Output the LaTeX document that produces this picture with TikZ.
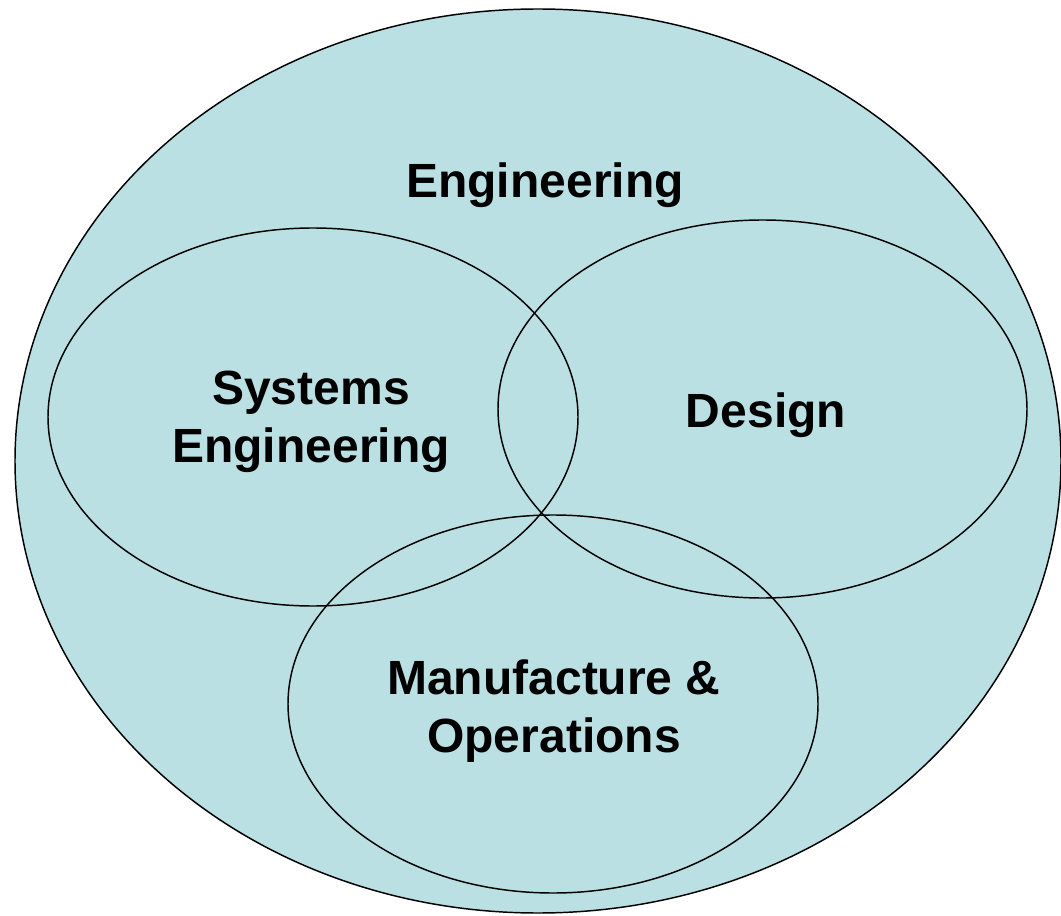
\documentclass[tikz,border=0pt]{standalone}
\usepackage{fontspec}
\setmainfont{Liberation Sans}
\usetikzlibrary{shapes.geometric}
\definecolor{vennfill}{RGB}{187,224,227}
\begin{document}
\begin{tikzpicture}[x=0.75pt,y=-0.75pt,
  ring/.style={ellipse,draw=black,line width=1.1pt,inner sep=0pt,outer sep=0pt},
  lbl/.style={font=\bfseries\fontsize{36}{43.5}\selectfont,align=center,inner sep=0pt,anchor=base}]
\useasboundingbox (0,0) rectangle (1061,916);
\node[ring,fill=vennfill,minimum width=784.5pt,minimum height=678pt] (eng) at (538,461) {};
\node[ring,minimum width=397.5pt,minimum height=283.5pt] (sys) at (313,417) {};
\node[ring,minimum width=396.75pt,minimum height=283.5pt] (des) at (762.5,409) {};
\node[ring,minimum width=397.5pt,minimum height=283.5pt] (man) at (553,704) {};
\node[lbl] (tEng) at (545,198) {Engineering};
\node[lbl] (tDes) at (766,427) {Design};
\node[lbl] (tSys) at (311,462) {Systems\\Engineering};
\node[lbl] (tMan) at (554,752) {Manufacture \&\\Operations};
\end{tikzpicture}
\end{document}
